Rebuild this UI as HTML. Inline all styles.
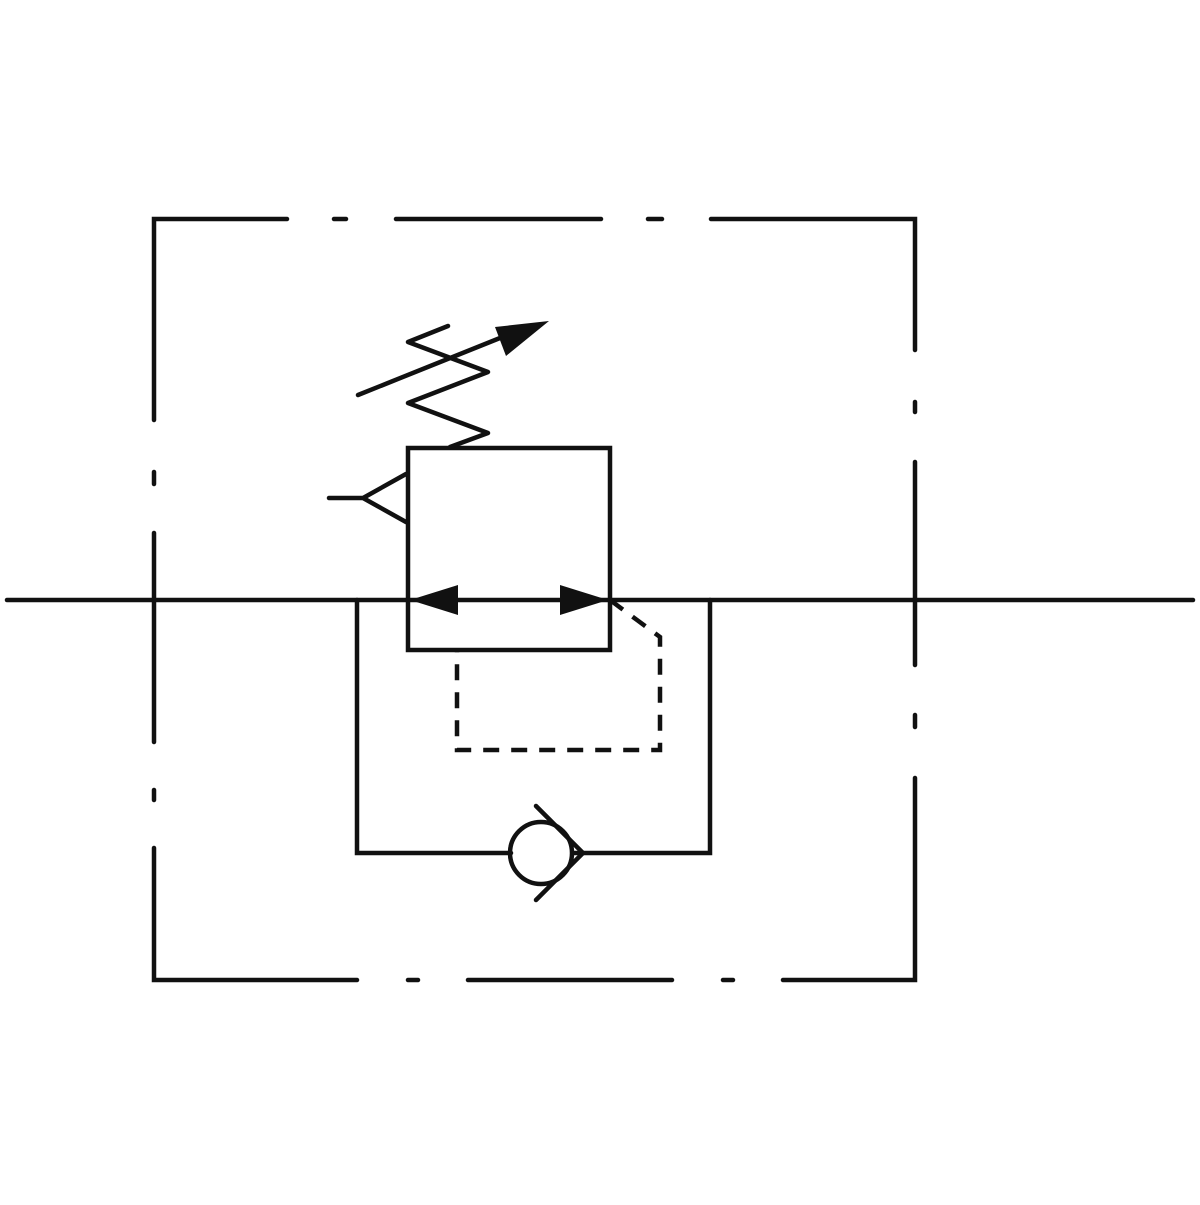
<!DOCTYPE html>
<html><head><style>html,body{margin:0;padding:0;background:#fff}</style></head>
<body>
<svg width="1200" height="1200" viewBox="0 0 1200 1200" xmlns="http://www.w3.org/2000/svg">
<g stroke="#111" stroke-width="4.5" fill="none" stroke-linecap="round" stroke-linejoin="miter">
<path d="M287 219H154V420 M334 219H346 M396 219H601 M648 219H662 M711 219H915V350"/>
<path d="M154 472V484 M154 533V742 M154 790V800 M154 848V980H357 M408 980H418 M468 980H672 M723 980H733 M783 980H915V778"/>
<path d="M915 402V412 M915 462V665 M915 715V727"/>
<path d="M7 600H1193"/>
<rect x="408" y="448" width="202" height="202"/>
<path d="M329 498H363 M406 474L363 498L406 522"/>
<path d="M448 326L408 342L488 372L408 403L488 433L450 447" stroke-linejoin="round"/>
<path d="M358 395L505 336"/>
<path d="M357 600V853H511 M573 853H710V600"/>
<circle cx="541" cy="853" r="31"/>
<path d="M536 806L583 853L536 900"/>
<path d="M610 600L660 637V750H457V652" stroke-dasharray="16 12" stroke-linecap="butt"/>
</g>
<g fill="#111">
<polygon points="549,321 495,327 506,356"/>
<polygon points="410,600 458,585 458,615"/>
<polygon points="608,600 560,585 560,615"/>
</g>
</svg>
</body></html>
